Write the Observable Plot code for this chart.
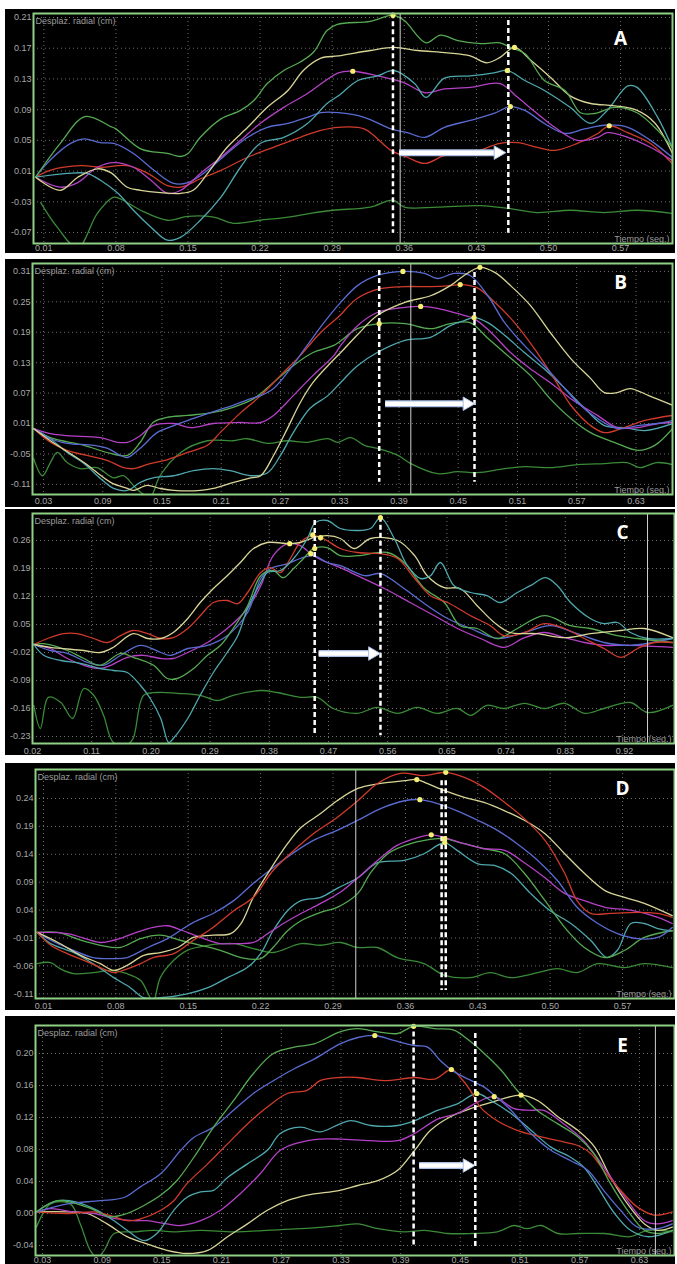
<!DOCTYPE html>
<html><head><meta charset="utf-8">
<script src="https://cdn.jsdelivr.net/npm/d3@7"></script>
<script src="https://cdn.jsdelivr.net/npm/@observablehq/plot@0.6"></script>
<style>
body{margin:0;background:#fff;width:677px;height:1264px;position:relative;overflow:hidden;font-family:"Liberation Sans",Arial,sans-serif}
.panel{position:absolute;left:5px}
.panel svg{display:block;background:#000}
</style></head><body>
<div id="pA" class="panel" style="top:9px"></div>
<div id="pB" class="panel" style="top:259px"></div>
<div id="pC" class="panel" style="top:509px"></div>
<div id="pD" class="panel" style="top:763px"></div>
<div id="pE" class="panel" style="top:1016px"></div>
<script>
// ---------- Tick labels ----------
const A_xTicks = [0.01,0.08,0.15,0.22,0.29,0.36,0.43,0.50,0.57];
const A_yTicks = [0.21,0.17,0.13,0.09,0.05,0.01,-0.03,-0.07];
const B_xTicks = [0.03,0.09,0.15,0.21,0.27,0.33,0.39,0.45,0.51,0.57,0.63];
const B_yTicks = [0.31,0.25,0.19,0.13,0.07,0.01,-0.05,-0.11];
const C_xTicks = [0.02,0.11,0.20,0.29,0.38,0.47,0.56,0.65,0.74,0.83,0.92];
const C_yTicks = [0.26,0.19,0.12,0.05,-0.02,-0.09,-0.16,-0.23];
const D_xTicks = [0.01,0.08,0.15,0.22,0.29,0.36,0.43,0.50,0.57];
const D_yTicks = [0.24,0.19,0.14,0.09,0.04,-0.01,-0.06,-0.11];
const E_xTicks = [0.03,0.09,0.15,0.21,0.27,0.33,0.39,0.45,0.51,0.57,0.63];
const E_yTicks = [0.20,0.16,0.12,0.08,0.04,0.00,-0.04];

// ---------- Panel A series [tiempo, desplazamiento] ----------
const A_green = [[0.002,0.002],[0.026,0.046],[0.050,0.081],[0.075,0.068],[0.080,0.065],[0.104,0.039],[0.130,0.033],[0.143,0.029],[0.150,0.033],[0.162,0.054],[0.182,0.078],[0.201,0.089],[0.214,0.102],[0.227,0.124],[0.243,0.141],[0.259,0.152],[0.272,0.165],[0.285,0.193],[0.295,0.201],[0.327,0.205],[0.349,0.213],[0.360,0.206],[0.381,0.177],[0.395,0.187],[0.412,0.180],[0.434,0.176],[0.453,0.177],[0.463,0.171],[0.477,0.163],[0.496,0.128],[0.516,0.115],[0.531,0.086],[0.545,0.085],[0.564,0.093],[0.586,0.086],[0.606,0.063],[0.620,0.041]];
const A_yellow = [[0.002,0.002],[0.026,-0.015],[0.043,0.002],[0.062,0.013],[0.075,0.008],[0.091,-0.011],[0.104,-0.015],[0.123,-0.018],[0.143,-0.019],[0.155,-0.015],[0.169,0.007],[0.188,0.041],[0.208,0.067],[0.227,0.093],[0.247,0.115],[0.262,0.141],[0.279,0.157],[0.296,0.160],[0.327,0.167],[0.350,0.171],[0.373,0.167],[0.402,0.164],[0.424,0.160],[0.440,0.151],[0.453,0.158],[0.467,0.171],[0.483,0.154],[0.502,0.132],[0.521,0.108],[0.541,0.098],[0.564,0.095],[0.586,0.089],[0.603,0.073],[0.620,0.034]];
const A_teal = [[0.002,0.002],[0.033,0.007],[0.052,0.007],[0.065,-0.002],[0.082,-0.019],[0.097,-0.041],[0.114,-0.063],[0.130,-0.080],[0.143,-0.076],[0.162,-0.054],[0.182,-0.024],[0.201,0.015],[0.220,0.046],[0.243,0.054],[0.266,0.072],[0.285,0.098],[0.296,0.108],[0.315,0.128],[0.334,0.134],[0.350,0.141],[0.370,0.124],[0.381,0.106],[0.399,0.131],[0.424,0.134],[0.447,0.138],[0.460,0.141],[0.477,0.128],[0.496,0.115],[0.521,0.093],[0.541,0.072],[0.557,0.089],[0.577,0.121],[0.586,0.119],[0.606,0.080],[0.620,0.041]];
const A_purple = [[0.002,0.002],[0.026,-0.011],[0.043,-0.005],[0.062,0.015],[0.078,0.021],[0.097,0.015],[0.114,-0.002],[0.130,-0.019],[0.143,-0.015],[0.162,0.007],[0.182,0.028],[0.201,0.050],[0.220,0.072],[0.243,0.093],[0.266,0.111],[0.296,0.138],[0.310,0.140],[0.334,0.134],[0.360,0.125],[0.380,0.112],[0.399,0.117],[0.424,0.119],[0.453,0.124],[0.470,0.106],[0.489,0.085],[0.506,0.067],[0.528,0.050],[0.548,0.054],[0.557,0.060],[0.577,0.054],[0.599,0.041],[0.620,0.024]];
const A_blue = [[0.002,0.002],[0.016,0.024],[0.036,0.046],[0.049,0.052],[0.065,0.047],[0.078,0.046],[0.097,0.033],[0.117,0.011],[0.136,-0.006],[0.150,-0.005],[0.169,0.011],[0.188,0.033],[0.208,0.054],[0.227,0.067],[0.247,0.072],[0.266,0.080],[0.279,0.086],[0.296,0.086],[0.321,0.080],[0.347,0.065],[0.363,0.060],[0.380,0.054],[0.399,0.067],[0.424,0.076],[0.447,0.085],[0.463,0.094],[0.477,0.089],[0.496,0.072],[0.516,0.059],[0.535,0.065],[0.557,0.070],[0.577,0.067],[0.599,0.050],[0.620,0.028]];
const A_red = [[0.002,0.002],[0.016,0.011],[0.046,0.017],[0.065,0.015],[0.091,0.017],[0.111,0.007],[0.130,-0.009],[0.143,-0.011],[0.162,0.000],[0.182,0.011],[0.208,0.028],[0.233,0.041],[0.259,0.054],[0.279,0.063],[0.296,0.067],[0.321,0.065],[0.347,0.037],[0.363,0.028],[0.380,0.020],[0.399,0.030],[0.424,0.033],[0.453,0.046],[0.470,0.047],[0.489,0.041],[0.506,0.037],[0.528,0.046],[0.548,0.059],[0.559,0.069],[0.577,0.060],[0.599,0.046],[0.620,0.020]];
const A_base = [[0.007,-0.031],[0.023,-0.063],[0.043,-0.090],[0.062,-0.045],[0.078,-0.024],[0.087,-0.028],[0.104,-0.041],[0.130,-0.054],[0.150,-0.049],[0.175,-0.050],[0.194,-0.058],[0.220,-0.054],[0.247,-0.050],[0.269,-0.045],[0.291,-0.041],[0.327,-0.037],[0.349,-0.028],[0.360,-0.037],[0.392,-0.037],[0.434,-0.035],[0.463,-0.039],[0.489,-0.044],[0.521,-0.041],[0.554,-0.044],[0.586,-0.041],[0.620,-0.045]];
const A_peaks = [[0.349,0.213],[0.310,0.140],[0.467,0.171],[0.460,0.141],[0.463,0.094],[0.559,0.069]];
const A_dashes = [[0.349,0.215,-0.071],[0.461,0.206,-0.071]];
const A_cursor = [0.356];
const A_arrow = [[0.355,0.453,0.034]];

// ---------- Panel B ----------
const B_blue = [[0.020,0.000],[0.037,-0.020],[0.054,-0.029],[0.081,-0.033],[0.095,-0.039],[0.108,-0.053],[0.115,-0.057],[0.128,-0.039],[0.145,-0.008],[0.162,0.006],[0.182,0.020],[0.206,0.036],[0.222,0.046],[0.240,0.059],[0.250,0.065],[0.263,0.079],[0.280,0.118],[0.297,0.164],[0.314,0.209],[0.331,0.249],[0.348,0.282],[0.368,0.302],[0.394,0.310],[0.416,0.306],[0.429,0.296],[0.446,0.306],[0.462,0.302],[0.480,0.262],[0.497,0.209],[0.517,0.164],[0.537,0.124],[0.558,0.079],[0.571,0.051],[0.591,0.020],[0.611,0.000],[0.632,0.006],[0.652,0.010],[0.667,0.016]];
const B_red = [[0.020,0.000],[0.037,-0.027],[0.054,-0.043],[0.074,-0.053],[0.095,-0.063],[0.111,-0.077],[0.121,-0.079],[0.138,-0.069],[0.156,-0.061],[0.176,-0.047],[0.196,-0.033],[0.209,-0.008],[0.230,0.032],[0.250,0.065],[0.270,0.105],[0.290,0.144],[0.311,0.190],[0.328,0.219],[0.348,0.257],[0.371,0.276],[0.396,0.280],[0.422,0.280],[0.442,0.282],[0.452,0.284],[0.469,0.278],[0.487,0.249],[0.507,0.209],[0.527,0.158],[0.547,0.099],[0.564,0.046],[0.584,0.006],[0.598,-0.008],[0.618,0.002],[0.639,0.016],[0.667,0.026]];
const B_green = [[0.020,0.000],[0.037,-0.018],[0.071,-0.033],[0.098,-0.049],[0.115,-0.053],[0.128,-0.027],[0.141,0.012],[0.155,0.022],[0.176,0.026],[0.202,0.032],[0.222,0.042],[0.243,0.059],[0.263,0.091],[0.283,0.124],[0.303,0.150],[0.324,0.164],[0.348,0.197],[0.370,0.207],[0.396,0.207],[0.422,0.197],[0.442,0.207],[0.462,0.209],[0.480,0.178],[0.500,0.144],[0.523,0.105],[0.543,0.059],[0.564,0.020],[0.584,-0.008],[0.608,-0.027],[0.632,-0.043],[0.649,-0.033],[0.667,0.000]];
const B_purple = [[0.020,0.000],[0.037,-0.010],[0.054,-0.014],[0.088,-0.018],[0.105,-0.027],[0.115,-0.027],[0.128,-0.014],[0.141,0.006],[0.162,0.010],[0.179,0.002],[0.202,0.010],[0.229,0.012],[0.250,0.012],[0.263,0.026],[0.283,0.065],[0.303,0.105],[0.324,0.144],[0.331,0.164],[0.348,0.203],[0.368,0.229],[0.396,0.239],[0.412,0.241],[0.429,0.237],[0.449,0.227],[0.466,0.217],[0.483,0.190],[0.503,0.150],[0.523,0.118],[0.543,0.091],[0.564,0.059],[0.591,0.026],[0.611,0.002],[0.632,0.002],[0.652,0.010],[0.667,0.012]];
const B_yellow = [[0.020,0.000],[0.037,-0.024],[0.071,-0.067],[0.098,-0.106],[0.115,-0.118],[0.121,-0.122],[0.135,-0.112],[0.148,-0.118],[0.162,-0.122],[0.189,-0.122],[0.202,-0.118],[0.219,-0.108],[0.240,-0.097],[0.250,-0.093],[0.263,-0.053],[0.277,0.000],[0.290,0.051],[0.303,0.091],[0.318,0.124],[0.331,0.150],[0.348,0.185],[0.368,0.223],[0.396,0.249],[0.422,0.262],[0.442,0.282],[0.456,0.302],[0.472,0.318],[0.487,0.308],[0.503,0.282],[0.523,0.243],[0.543,0.190],[0.564,0.138],[0.584,0.099],[0.598,0.071],[0.611,0.071],[0.624,0.079],[0.643,0.065],[0.667,0.046]];
const B_teal = [[0.020,0.000],[0.037,-0.020],[0.054,-0.047],[0.071,-0.069],[0.088,-0.099],[0.101,-0.118],[0.115,-0.122],[0.128,-0.106],[0.141,-0.097],[0.162,-0.093],[0.182,-0.083],[0.202,-0.079],[0.219,-0.083],[0.240,-0.093],[0.257,-0.087],[0.270,-0.053],[0.283,-0.008],[0.300,0.040],[0.318,0.065],[0.331,0.091],[0.348,0.124],[0.368,0.150],[0.396,0.174],[0.422,0.180],[0.442,0.203],[0.456,0.213],[0.466,0.219],[0.480,0.209],[0.497,0.184],[0.517,0.150],[0.537,0.118],[0.558,0.079],[0.578,0.040],[0.598,0.006],[0.618,0.002],[0.639,-0.004],[0.667,0.010]];
const B_base = [[0.020,-0.059],[0.029,-0.093],[0.037,-0.067],[0.044,-0.047],[0.054,-0.067],[0.067,-0.079],[0.084,-0.077],[0.101,-0.097],[0.111,-0.093],[0.121,-0.112],[0.128,-0.125],[0.138,-0.135],[0.148,-0.093],[0.169,-0.047],[0.196,-0.024],[0.222,-0.024],[0.236,-0.020],[0.257,-0.029],[0.277,-0.024],[0.297,-0.027],[0.318,-0.020],[0.328,-0.027],[0.341,-0.018],[0.355,-0.033],[0.368,-0.039],[0.389,-0.053],[0.402,-0.069],[0.429,-0.089],[0.449,-0.085],[0.469,-0.087],[0.497,-0.079],[0.517,-0.075],[0.543,-0.077],[0.571,-0.071],[0.598,-0.069],[0.621,-0.067],[0.634,-0.077],[0.651,-0.067],[0.667,-0.071]];
const B_peaks = [[0.394,0.310],[0.452,0.284],[0.370,0.207],[0.412,0.241],[0.472,0.318],[0.466,0.219]];
const B_dashes = [[0.370,0.312,-0.106],[0.4665,0.308,-0.106]];
const B_cursor = [0.402];
const B_arrow = [[0.376,0.461,0.049]];

// ---------- Panel C ----------
const C_red = [[0.022,0],[0.043,0.015],[0.067,0.027],[0.088,0.027],[0.113,0.015],[0.134,0.005],[0.154,0.022],[0.173,0.035],[0.195,0.027],[0.215,0.015],[0.234,0.017],[0.256,0.040],[0.275,0.072],[0.295,0.105],[0.316,0.110],[0.332,0.102],[0.347,0.130],[0.367,0.180],[0.382,0.192],[0.397,0.180],[0.412,0.215],[0.427,0.255],[0.446,0.272],[0.462,0.265],[0.488,0.240],[0.514,0.230],[0.549,0.227],[0.575,0.215],[0.601,0.165],[0.625,0.122],[0.651,0.105],[0.686,0.072],[0.716,0.047],[0.737,0.022],[0.768,0.030],[0.798,0.052],[0.829,0.040],[0.859,0.015],[0.889,-0.010],[0.914,-0.032],[0.940,-0.010],[0.965,0.005],[0.993,0.005]];
const C_yellow = [[0.022,0],[0.047,-0.007],[0.098,-0.015],[0.123,-0.020],[0.143,-0.007],[0.173,0.027],[0.195,0.015],[0.215,0.015],[0.234,0.030],[0.256,0.065],[0.275,0.105],[0.295,0.140],[0.316,0.172],[0.336,0.205],[0.356,0.240],[0.377,0.255],[0.411,0.252],[0.427,0.255],[0.447,0.267],[0.468,0.272],[0.488,0.265],[0.509,0.240],[0.534,0.265],[0.575,0.260],[0.601,0.222],[0.620,0.172],[0.646,0.142],[0.670,0.140],[0.696,0.097],[0.722,0.055],[0.746,0.030],[0.787,0.027],[0.829,0.017],[0.868,0.027],[0.914,0.035],[0.950,0.040],[0.993,0.017]];
const C_teal = [[0.022,0],[0.037,-0.027],[0.063,-0.040],[0.093,-0.047],[0.123,-0.060],[0.143,-0.065],[0.164,-0.070],[0.184,-0.102],[0.199,-0.135],[0.215,-0.185],[0.227,-0.245],[0.234,-0.235],[0.256,-0.185],[0.275,-0.127],[0.295,-0.070],[0.316,-0.020],[0.332,0.022],[0.347,0.090],[0.367,0.155],[0.377,0.180],[0.397,0.185],[0.417,0.215],[0.438,0.265],[0.450,0.305],[0.468,0.310],[0.488,0.290],[0.514,0.285],[0.534,0.290],[0.549,0.317],[0.570,0.265],[0.590,0.197],[0.610,0.165],[0.625,0.172],[0.640,0.205],[0.661,0.147],[0.686,0.130],[0.711,0.122],[0.731,0.105],[0.757,0.130],[0.777,0.147],[0.800,0.167],[0.818,0.147],[0.838,0.105],[0.868,0.065],[0.889,0.052],[0.909,0.055],[0.929,0.030],[0.955,0.015],[0.993,0.015]];
const C_green = [[0.022,0],[0.037,0.002],[0.073,-0.015],[0.098,-0.035],[0.123,-0.052],[0.154,-0.022],[0.173,-0.032],[0.204,-0.052],[0.225,-0.085],[0.240,-0.085],[0.265,-0.060],[0.286,-0.027],[0.306,-0.002],[0.325,0.040],[0.347,0.097],[0.367,0.172],[0.386,0.185],[0.401,0.167],[0.417,0.190],[0.432,0.215],[0.447,0.240],[0.468,0.242],[0.488,0.222],[0.514,0.222],[0.560,0.230],[0.585,0.205],[0.616,0.140],[0.646,0.105],[0.670,0.047],[0.696,0.040],[0.727,0.015],[0.757,0.040],[0.798,0.072],[0.838,0.047],[0.868,0.040],[0.909,0.022],[0.940,0.015],[0.993,0.005]];
const C_purple = [[0.022,0],[0.047,-0.010],[0.073,-0.035],[0.098,-0.052],[0.123,-0.060],[0.139,-0.052],[0.164,-0.032],[0.189,-0.027],[0.215,-0.035],[0.234,-0.035],[0.256,-0.020],[0.286,0.005],[0.316,0.040],[0.347,0.090],[0.367,0.147],[0.386,0.222],[0.408,0.252],[0.427,0.247],[0.447,0.222],[0.468,0.205],[0.488,0.192],[0.514,0.172],[0.555,0.140],[0.594,0.105],[0.631,0.072],[0.666,0.040],[0.701,0.015],[0.737,-0.007],[0.768,0.017],[0.798,0.030],[0.829,0.017],[0.859,0.005],[0.889,-0.002],[0.929,-0.002],[0.993,-0.007]];
const C_blue = [[0.022,0],[0.047,-0.015],[0.073,-0.022],[0.104,-0.045],[0.128,-0.052],[0.154,-0.027],[0.184,-0.002],[0.215,-0.020],[0.230,-0.027],[0.256,-0.010],[0.286,-0.002],[0.316,0.022],[0.347,0.080],[0.367,0.165],[0.382,0.190],[0.408,0.202],[0.427,0.215],[0.447,0.222],[0.468,0.205],[0.488,0.197],[0.525,0.172],[0.549,0.177],[0.585,0.140],[0.616,0.102],[0.651,0.065],[0.686,0.040],[0.727,0.015],[0.768,0.030],[0.807,0.047],[0.848,0.027],[0.889,0.005],[0.929,-0.002],[0.993,0.015]];
const C_base = [[0.022,-0.152],[0.032,-0.210],[0.044,-0.132],[0.063,-0.145],[0.081,-0.185],[0.098,-0.110],[0.113,-0.127],[0.128,-0.177],[0.143,-0.245],[0.164,-0.250],[0.173,-0.235],[0.189,-0.127],[0.210,-0.120],[0.240,-0.122],[0.275,-0.127],[0.301,-0.140],[0.325,-0.127],[0.367,-0.115],[0.392,-0.120],[0.427,-0.132],[0.453,-0.132],[0.477,-0.160],[0.514,-0.172],[0.544,-0.157],[0.575,-0.172],[0.605,-0.157],[0.635,-0.172],[0.666,-0.160],[0.686,-0.177],[0.711,-0.152],[0.737,-0.160],[0.768,-0.147],[0.798,-0.160],[0.829,-0.147],[0.859,-0.172],[0.889,-0.160],[0.929,-0.145],[0.955,-0.170],[0.993,-0.152]];
const C_peaks = [[0.411,0.252],[0.446,0.274],[0.458,0.267],[0.449,0.240],[0.443,0.227],[0.549,0.317]];
const C_dashes = [[0.449,0.310,-0.228],[0.549,0.318,-0.228]];
const C_cursor = [0.955];
const C_arrow = [[0.455,0.540,-0.0225]];

// ---------- Panel D ----------
const D_purple = [[0.004,0],[0.033,-0.002],[0.065,-0.018],[0.078,-0.014],[0.097,-0.002],[0.116,0.009],[0.130,0.012],[0.145,0.003],[0.162,-0.009],[0.181,-0.020],[0.194,-0.020],[0.213,-0.018],[0.227,-0.002],[0.242,0.016],[0.259,0.034],[0.278,0.052],[0.297,0.072],[0.314,0.098],[0.333,0.129],[0.352,0.156],[0.372,0.170],[0.385,0.175],[0.398,0.170],[0.417,0.159],[0.436,0.150],[0.456,0.147],[0.475,0.125],[0.495,0.098],[0.514,0.070],[0.533,0.057],[0.553,0.045],[0.578,0.040],[0.604,0.027],[0.618,0.016]];
const D_green = [[0.004,0],[0.024,0],[0.046,-0.014],[0.065,-0.023],[0.084,-0.027],[0.104,-0.011],[0.123,-0.005],[0.142,-0.014],[0.162,-0.023],[0.181,-0.032],[0.201,-0.045],[0.220,-0.047],[0.232,-0.027],[0.246,0.003],[0.259,0.021],[0.278,0.036],[0.294,0.045],[0.314,0.070],[0.326,0.106],[0.343,0.141],[0.365,0.159],[0.391,0.168],[0.398,0.168],[0.417,0.159],[0.436,0.150],[0.456,0.141],[0.475,0.106],[0.495,0.057],[0.514,0.009],[0.533,-0.027],[0.553,-0.045],[0.572,-0.032],[0.591,-0.009],[0.618,0.003]];
const D_yellow = [[0.004,0],[0.024,-0.018],[0.046,-0.041],[0.065,-0.056],[0.078,-0.068],[0.091,-0.059],[0.107,-0.041],[0.123,-0.036],[0.140,-0.027],[0.155,-0.009],[0.174,-0.005],[0.191,-0.002],[0.201,0.016],[0.213,0.063],[0.227,0.106],[0.246,0.159],[0.259,0.188],[0.278,0.213],[0.294,0.236],[0.314,0.258],[0.336,0.267],[0.359,0.272],[0.371,0.274],[0.381,0.267],[0.398,0.254],[0.417,0.242],[0.436,0.233],[0.456,0.218],[0.475,0.201],[0.495,0.177],[0.514,0.141],[0.533,0.106],[0.553,0.075],[0.572,0.063],[0.591,0.052],[0.618,0.030]];
const D_red = [[0.004,0],[0.017,-0.023],[0.033,-0.038],[0.049,-0.050],[0.065,-0.063],[0.078,-0.072],[0.087,-0.068],[0.104,-0.056],[0.116,-0.045],[0.136,-0.038],[0.155,-0.014],[0.174,0.009],[0.194,0.039],[0.213,0.063],[0.232,0.111],[0.252,0.147],[0.271,0.177],[0.294,0.206],[0.314,0.236],[0.333,0.267],[0.355,0.285],[0.378,0.281],[0.399,0.287],[0.417,0.278],[0.436,0.260],[0.456,0.233],[0.475,0.204],[0.495,0.165],[0.514,0.106],[0.526,0.057],[0.539,0.034],[0.558,0.034],[0.584,0.036],[0.604,0.034],[0.618,0.027]];
const D_blue = [[0.004,0],[0.017,-0.014],[0.039,-0.032],[0.058,-0.045],[0.078,-0.047],[0.091,-0.045],[0.111,-0.027],[0.130,-0.011],[0.142,0.003],[0.155,0.018],[0.174,0.034],[0.194,0.057],[0.213,0.088],[0.232,0.116],[0.252,0.143],[0.271,0.165],[0.294,0.183],[0.314,0.201],[0.336,0.222],[0.359,0.236],[0.374,0.238],[0.391,0.231],[0.410,0.218],[0.430,0.201],[0.449,0.183],[0.468,0.159],[0.488,0.129],[0.507,0.093],[0.526,0.045],[0.546,0.016],[0.565,-0.002],[0.584,-0.011],[0.604,-0.009],[0.618,0.009]];
const D_teal = [[0.004,0],[0.017,-0.020],[0.039,-0.036],[0.058,-0.056],[0.078,-0.081],[0.094,-0.099],[0.107,-0.117],[0.123,-0.117],[0.149,-0.110],[0.169,-0.099],[0.188,-0.081],[0.207,-0.063],[0.220,-0.038],[0.232,0.003],[0.246,0.039],[0.259,0.057],[0.278,0.063],[0.294,0.079],[0.314,0.098],[0.333,0.125],[0.359,0.129],[0.378,0.141],[0.391,0.156],[0.398,0.161],[0.410,0.147],[0.430,0.123],[0.446,0.120],[0.462,0.106],[0.481,0.070],[0.500,0.039],[0.520,0.016],[0.539,-0.014],[0.555,-0.045],[0.565,-0.032],[0.578,0.016],[0.591,0.016],[0.604,0.007],[0.618,0.003]];
const D_base = [[0.004,-0.056],[0.017,-0.054],[0.026,-0.065],[0.039,-0.074],[0.058,-0.072],[0.075,-0.068],[0.091,-0.074],[0.104,-0.086],[0.111,-0.109],[0.116,-0.125],[0.123,-0.081],[0.136,-0.050],[0.149,-0.032],[0.169,-0.023],[0.194,-0.020],[0.213,-0.029],[0.232,-0.036],[0.259,-0.020],[0.278,-0.023],[0.297,-0.018],[0.314,-0.027],[0.333,-0.027],[0.352,-0.045],[0.378,-0.056],[0.398,-0.077],[0.423,-0.081],[0.442,-0.072],[0.462,-0.081],[0.488,-0.072],[0.507,-0.065],[0.526,-0.072],[0.546,-0.056],[0.572,-0.063],[0.591,-0.056],[0.618,-0.063]];
const D_peaks = [[0.371,0.274],[0.399,0.287],[0.374,0.238],[0.385,0.175],[0.398,0.168],[0.398,0.161]];
const D_dashes = [[0.395,0.272,-0.104],[0.399,0.272,-0.104]];
const D_cursor = [0.312];
const D_arrow = [];

// ---------- Panel E ----------
const E_green = [[0.024,0.002],[0.045,0.016],[0.075,0.008],[0.098,-0.004],[0.115,0.000],[0.132,0.010],[0.149,0.023],[0.165,0.041],[0.182,0.070],[0.202,0.108],[0.222,0.141],[0.242,0.175],[0.262,0.200],[0.283,0.208],[0.303,0.212],[0.329,0.227],[0.347,0.231],[0.367,0.227],[0.387,0.225],[0.403,0.234],[0.424,0.231],[0.444,0.229],[0.457,0.218],[0.474,0.200],[0.491,0.179],[0.507,0.154],[0.527,0.129],[0.548,0.112],[0.568,0.096],[0.584,0.075],[0.601,0.037],[0.618,0.004],[0.635,-0.021],[0.648,-0.025],[0.663,-0.021]];
const E_blue = [[0.024,0.002],[0.055,0.012],[0.088,0.016],[0.112,0.020],[0.128,0.033],[0.149,0.050],[0.169,0.079],[0.182,0.095],[0.202,0.108],[0.222,0.129],[0.242,0.150],[0.262,0.166],[0.283,0.181],[0.303,0.193],[0.329,0.212],[0.347,0.220],[0.364,0.2225],[0.384,0.216],[0.404,0.210],[0.417,0.208],[0.430,0.191],[0.444,0.177],[0.461,0.166],[0.474,0.158],[0.484,0.148],[0.501,0.129],[0.521,0.100],[0.541,0.079],[0.561,0.066],[0.578,0.054],[0.594,0.029],[0.611,0.004],[0.628,-0.017],[0.648,-0.019],[0.663,-0.013]];
const E_red = [[0.024,0.002],[0.055,0.000],[0.082,0.002],[0.102,-0.004],[0.115,-0.009],[0.128,-0.007],[0.149,0.004],[0.162,0.016],[0.175,0.037],[0.196,0.062],[0.216,0.087],[0.236,0.112],[0.256,0.133],[0.276,0.150],[0.296,0.154],[0.309,0.166],[0.329,0.170],[0.347,0.170],[0.373,0.166],[0.404,0.170],[0.424,0.168],[0.441,0.180],[0.450,0.170],[0.460,0.154],[0.470,0.133],[0.487,0.116],[0.507,0.104],[0.527,0.097],[0.548,0.091],[0.568,0.085],[0.581,0.075],[0.594,0.054],[0.611,0.029],[0.628,0.008],[0.645,-0.002],[0.663,0.002]];
const E_teal = [[0.024,0.002],[0.045,0.016],[0.065,0.014],[0.085,0.004],[0.102,-0.009],[0.115,-0.021],[0.132,-0.034],[0.145,-0.025],[0.162,0.004],[0.175,0.020],[0.189,0.027],[0.202,0.029],[0.216,0.045],[0.236,0.062],[0.256,0.079],[0.269,0.100],[0.289,0.108],[0.309,0.102],[0.329,0.112],[0.340,0.116],[0.360,0.110],[0.387,0.110],[0.404,0.116],[0.427,0.129],[0.447,0.137],[0.4665,0.150],[0.481,0.141],[0.501,0.125],[0.521,0.104],[0.541,0.083],[0.561,0.070],[0.574,0.058],[0.588,0.033],[0.605,0.000],[0.621,-0.021],[0.638,-0.029],[0.655,-0.025],[0.663,-0.021]];
const E_purple = [[0.024,0.002],[0.038,0.006],[0.061,0.002],[0.082,0.000],[0.102,-0.006],[0.122,-0.009],[0.135,-0.009],[0.155,-0.013],[0.169,-0.015],[0.189,-0.009],[0.209,0.004],[0.229,0.025],[0.249,0.050],[0.269,0.079],[0.289,0.089],[0.309,0.093],[0.329,0.093],[0.360,0.091],[0.387,0.091],[0.404,0.100],[0.427,0.118],[0.447,0.125],[0.467,0.139],[0.484,0.146],[0.504,0.131],[0.521,0.129],[0.534,0.129],[0.554,0.112],[0.574,0.091],[0.594,0.058],[0.615,0.021],[0.635,-0.009],[0.648,-0.013],[0.663,-0.009]];
const E_yellow = [[0.024,0.002],[0.055,0.002],[0.075,0.000],[0.095,-0.013],[0.115,-0.029],[0.135,-0.038],[0.155,-0.046],[0.175,-0.050],[0.196,-0.046],[0.216,-0.029],[0.236,-0.013],[0.256,0.004],[0.276,0.016],[0.296,0.023],[0.329,0.029],[0.347,0.035],[0.367,0.041],[0.387,0.054],[0.404,0.079],[0.420,0.104],[0.440,0.121],[0.460,0.131],[0.481,0.139],[0.511,0.148],[0.528,0.141],[0.548,0.121],[0.568,0.104],[0.585,0.083],[0.601,0.045],[0.618,0.012],[0.635,-0.013],[0.648,-0.021],[0.663,-0.017]];
const E_base = [[0.024,-0.017],[0.038,0.012],[0.058,0.012],[0.068,-0.013],[0.078,-0.046],[0.085,-0.055],[0.092,-0.046],[0.102,-0.025],[0.122,-0.023],[0.142,-0.021],[0.162,-0.023],[0.189,-0.021],[0.222,-0.023],[0.256,-0.021],[0.289,-0.019],[0.329,-0.015],[0.347,-0.013],[0.367,-0.019],[0.394,-0.023],[0.414,-0.021],[0.437,-0.025],[0.461,-0.025],[0.487,-0.023],[0.504,-0.015],[0.517,-0.019],[0.531,-0.015],[0.548,-0.025],[0.568,-0.025],[0.595,-0.025],[0.621,-0.029],[0.638,-0.021],[0.663,-0.023]];
const E_peaks = [[0.403,0.234],[0.364,0.2225],[0.441,0.180],[0.4665,0.150],[0.484,0.146],[0.511,0.148]];
const E_dashes = [[0.403,0.227,-0.042],[0.465,0.225,-0.042]];
const E_cursor = [0.646];
const E_arrow = [[0.4086,0.4588,0.060]];

// ---------- drawing ----------
const COL = {green:"#55aa52", yellow:"#d8d597", purple:"#b441c6", teal:"#4ea8ae", blue:"#5a6bd2", red:"#d03b2b", base:"#3a8a37"};
const fmt = d => d.toFixed(2);

function panel(p) {
  const xy = {x: d => d[0], y: d => d[1]};
  const marks = [
    Plot.ruleX(p.xTicks, {stroke:"#8a8a8a", strokeWidth:1, strokeDasharray:"1,3", strokeOpacity:0.8}),
    Plot.ruleY(p.yTicks, {stroke:"#8a8a8a", strokeWidth:1, strokeDasharray:"1,3", strokeOpacity:0.8}),
    Plot.text(["Desplaz. radial (cm)"], {frameAnchor:"top-left", dx:2, dy:4, fill:"#9c9c9c", fontSize:9, textAnchor:"start", lineAnchor:"top"}),
    Plot.text(["Tiempo (seg.)"], {frameAnchor:"bottom-right", dx:-3, dy:-2, fill:"#9c9c9c", fontSize:9, textAnchor:"end", lineAnchor:"bottom"})
  ];
  for (const [data, c] of p.series) {
    marks.push(Plot.line(data, {...xy, stroke: COL[c], strokeWidth: 1.3, curve: "catmull-rom", clip: true}));
  }
  marks.push(Plot.ruleX(p.cursor, {x: d => d, stroke:"#d0d0d0", strokeWidth:1}));
  marks.push(Plot.ruleX(p.dashes, {x: d => d[0], y1: d => d[1], y2: d => d[2], stroke:"#ffffff", strokeWidth:2.5, strokeDasharray:"5,3"}));
  if (p.arrow.length) {
    marks.push(Plot.link(p.arrow, {x1: d => d[0], x2: d => d[1], y1: d => d[2], y2: d => d[2], stroke:"#a9bde3", strokeWidth:7}));
    marks.push(Plot.link(p.arrow, {x1: d => d[0], x2: d => d[1], y1: d => d[2], y2: d => d[2], stroke:"#ffffff", strokeWidth:4.5}));
    marks.push(Plot.dot(p.arrow, {x: d => d[1], y: d => d[2], dx:-2, symbol:"triangle", rotate:90, r:5, fill:"#ffffff", stroke:"#a9bde3", strokeWidth:1}));
  }
  marks.push(Plot.dot(p.peaks, {...xy, r:2.6, fill:"#f4ef72", stroke:"none"}));
  marks.push(Plot.text([p.letter], {frameAnchor:"top-right", dx:-52, dy:p.letterDy, fill:"#ffffff", fontSize:19, fontWeight:"bold", fontFamily:"'Open Sans','Liberation Sans',sans-serif", textAnchor:"middle", lineAnchor:"middle"}));
  marks.push(Plot.frame({stroke:"#8fcf86", strokeWidth:2}));
  marks.push(Plot.axisX(p.xTicks, {tickSize:0, tickPadding:p.xPad, tickFormat:fmt, fill:"#a8a8a8", fontSize:9, label:null}));
  marks.push(Plot.axisY(p.yTicks, {tickSize:0, tickPadding:2, tickFormat:fmt, fill:"#a8a8a8", fontSize:9, label:null, anchor:"left"}));
  return Plot.plot({
    width: 670, height: p.h,
    marginTop: p.m[0], marginRight: p.m[1], marginBottom: p.m[2], marginLeft: p.m[3],
    style: {background:"#000", color:"#a8a8a8", fontFamily:"'Liberation Sans',Arial,sans-serif", fontSize:"9px"},
    x: {domain: p.xd, axis: null},
    y: {domain: p.yd, axis: null},
    marks
  });
}

const panels = [
  {id:"pA", letter:"A", letterDy:25, h:244, m:[4,3,10,28], xd:[0,0.6204], yd:[-0.0843,0.2152], xPad:1, xTicks:A_xTicks, yTicks:A_yTicks,
   series:[[A_base,"base"],[A_red,"red"],[A_blue,"blue"],[A_purple,"purple"],[A_teal,"teal"],[A_yellow,"yellow"],[A_green,"green"]],
   peaks:A_peaks, dashes:A_dashes, cursor:A_cursor, arrow:A_arrow},
  {id:"pB", letter:"B", letterDy:19, h:248, m:[4,3,13,27], xd:[0.0189,0.667], yd:[-0.130,0.3256], xPad:3, xTicks:B_xTicks, yTicks:B_yTicks,
   series:[[B_base,"base"],[B_green,"green"],[B_teal,"teal"],[B_purple,"purple"],[B_red,"red"],[B_blue,"blue"],[B_yellow,"yellow"]],
   peaks:B_peaks, dashes:B_dashes, cursor:B_cursor, arrow:B_arrow},
  {id:"pC", letter:"C", letterDy:19, h:246, m:[4,1,12,27], xd:[0.02,0.996], yd:[-0.2475,0.3275], xPad:4, xTicks:C_xTicks, yTicks:C_yTicks,
   series:[[C_base,"base"],[C_purple,"purple"],[C_blue,"blue"],[C_green,"green"],[C_red,"red"],[C_yellow,"yellow"],[C_teal,"teal"]],
   peaks:C_peaks, dashes:C_dashes, cursor:C_cursor, arrow:C_arrow},
  {id:"pD", letter:"D", letterDy:19, h:247, m:[6,1,12,30], xd:[0.0023,0.6202], yd:[-0.1184,0.292], xPad:4, xTicks:D_xTicks, yTicks:D_yTicks,
   series:[[D_base,"base"],[D_teal,"teal"],[D_green,"green"],[D_purple,"purple"],[D_blue,"blue"],[D_yellow,"yellow"],[D_red,"red"]],
   peaks:D_peaks, dashes:D_dashes, cursor:D_cursor, arrow:D_arrow},
  {id:"pE", letter:"E", letterDy:20, h:248, m:[9,1,9,30], xd:[0.023,0.6652], yd:[-0.0525,0.235], xPad:1, xTicks:E_xTicks, yTicks:E_yTicks,
   series:[[E_base,"base"],[E_yellow,"yellow"],[E_purple,"purple"],[E_teal,"teal"],[E_red,"red"],[E_blue,"blue"],[E_green,"green"]],
   peaks:E_peaks, dashes:E_dashes, cursor:E_cursor, arrow:E_arrow}
];
for (const p of panels) document.getElementById(p.id).appendChild(panel(p));
</script>
</body></html>
